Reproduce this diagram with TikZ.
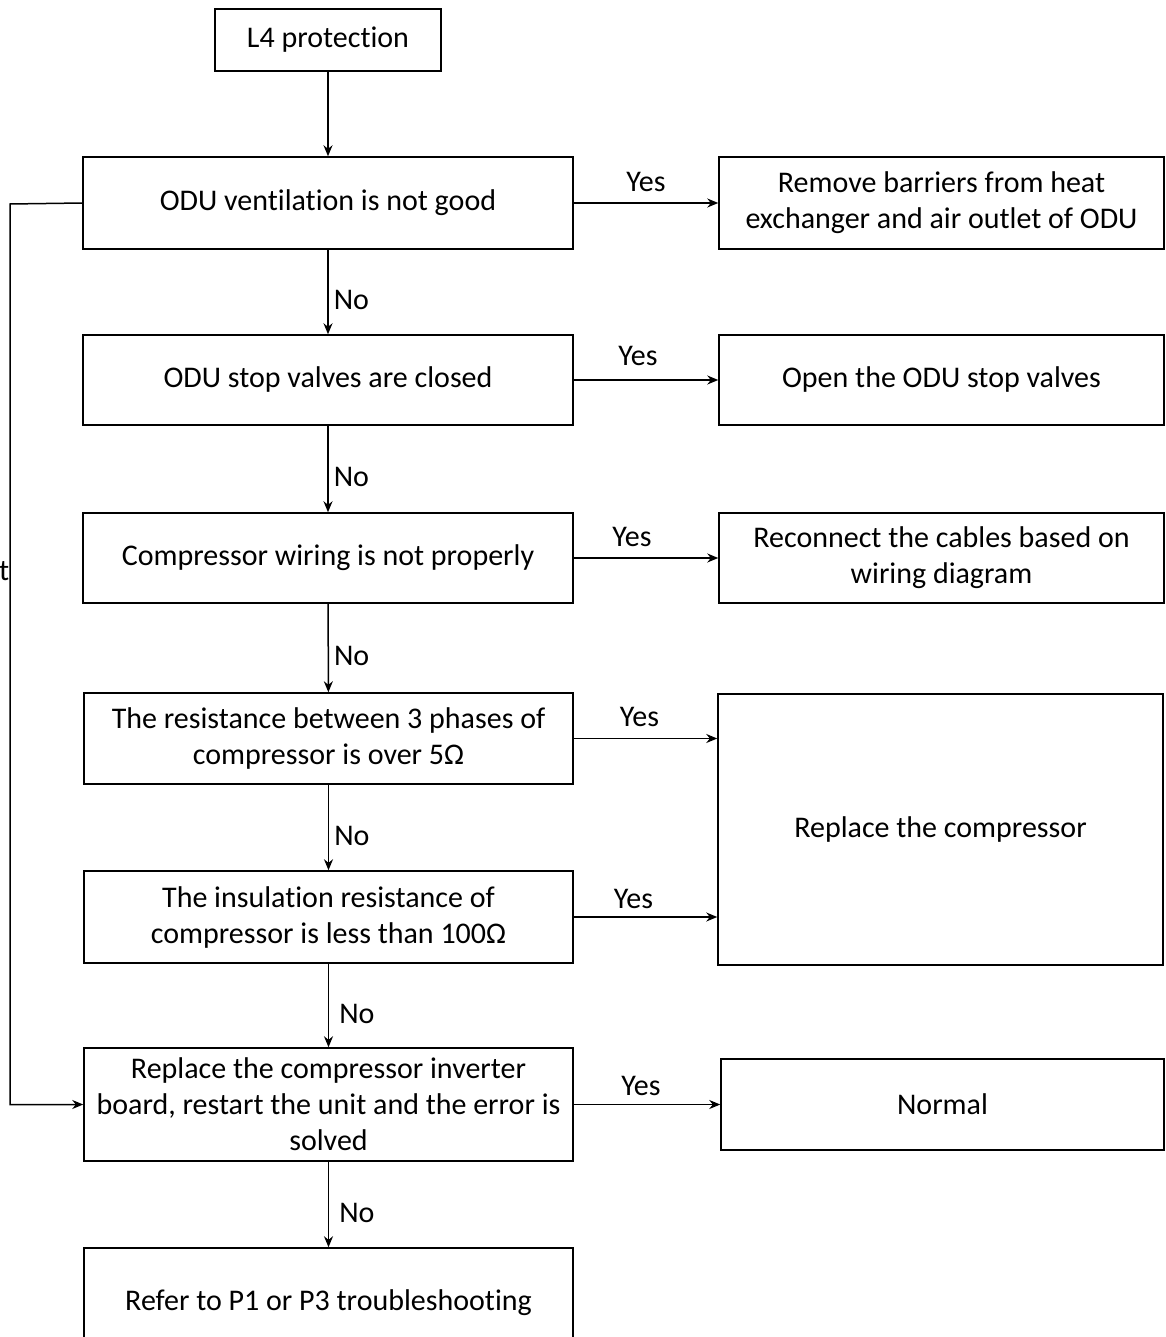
\documentclass[tikz,border=0pt]{standalone}
\usepackage{fontspec}
\setmainfont{Carlito}[Ligatures=NoCommon]
\usetikzlibrary{arrows.meta}

\tikzset{
  box/.style={draw, line width=1.5pt, minimum width=490pt, minimum height=92pt, align=center, inner sep=4pt},
  rbox/.style={box, minimum width=445pt},
  arr/.style={line width=1.5pt, -{Stealth[length=11pt,width=9pt]}},
  lbl/.style={inner sep=2pt},
  nolbl/.style={lbl, anchor=west, yshift=-8pt},
  yeslbl/.style={lbl, above=9pt}
}

\begin{document}
\begin{tikzpicture}[x=1pt,y=-1pt,font=\fontsize{30}{36}\selectfont]
    \useasboundingbox (0,0) rectangle (1165,1337);
    \clip (0,0) rectangle (1165,1337);

    % main column
    \node[draw, line width=1.5pt, minimum width=226pt, minimum height=62pt] (l4) at (328,40) {L4 protection};
    \node[box] (b1) at (328,203) {ODU ventilation is not good};
    \node[box, minimum height=90pt] (b2) at (328,380) {ODU stop valves are closed};
    \node[box, minimum height=90pt] (b3) at (328,558) {Compressor wiring is not properly};
    \node[box, minimum width=489pt, minimum height=91pt] (b4) at (328.5,738.5) {The resistance between 3 phases of\\compressor is over 5Ω};
    \node[box, minimum width=489pt] (b5) at (328.5,917) {The insulation resistance of\\compressor is less than 100Ω};
    \node[box, minimum width=489pt, minimum height=113pt] (b6) at (328.5,1104.5) {Replace the compressor inverter\\board, restart the unit and the error is\\solved};
    \node[box, minimum width=489pt, minimum height=110pt] (b7) at (328.5,1303) {Refer to P1 or P3 troubleshooting};
    \node[inner sep=0pt, anchor=base west] (cut) at (-1,580) {t};

    % right column
    \node[rbox] (r1) at (941.5,203) {Remove barriers from heat\\exchanger and air outlet of ODU};
    \node[rbox, minimum height=90pt] (r2) at (941.5,380) {Open the ODU stop valves};
    \node[rbox, minimum height=90pt] (r3) at (941.5,558) {Reconnect the cables based on\\wiring diagram};
    \node[rbox, minimum height=271pt] (rc) at (940.5,829.5) {Replace the compressor};
    \node[rbox, minimum width=443pt, minimum height=91pt] (rn) at (942.5,1104.5) {Normal};

    % No
    \draw[arr] (l4) -- (b1);
    \draw[arr] (b1) -- node[nolbl, xshift=3pt] {No} (b2);
    \draw[arr] (b2) -- node[nolbl, xshift=3pt] {No} (b3);
    \draw[arr] (b3) -- node[nolbl, xshift=3pt] {No} (b4);
    \draw[arr] (b4) -- node[nolbl, xshift=3pt] {No} (b5);
    \draw[arr] (b5) -- node[nolbl, xshift=8pt] {No} (b6);
    \draw[arr] (b6) -- node[nolbl, xshift=8pt] {No} (b7);

    % Yes
    \draw[arr] (b1) -- node[yeslbl] {Yes} (r1);
    \draw[arr] (b2) -- node[yeslbl, xshift=-8pt, yshift=3pt] {Yes} (r2);
    \draw[arr] (b3) -- node[yeslbl, xshift=-14pt] {Yes} (r3);
    \draw[arr] (b4.east) -- node[yeslbl, xshift=-6pt] {Yes} (rc.west |- b4.east);
    \draw[arr] (b5.east) -- node[yeslbl, xshift=-12pt, yshift=-3pt] {Yes} (rc.west |- b5.east);
    \draw[arr] (b6) -- node[yeslbl, xshift=-6pt, yshift=-3pt] {Yes} (rn);

    % loop back
    \coordinate (fb) at (10,204);
    \draw[arr] (b1.west) -- (fb) |- (b6.west);
\end{tikzpicture}
\end{document}
